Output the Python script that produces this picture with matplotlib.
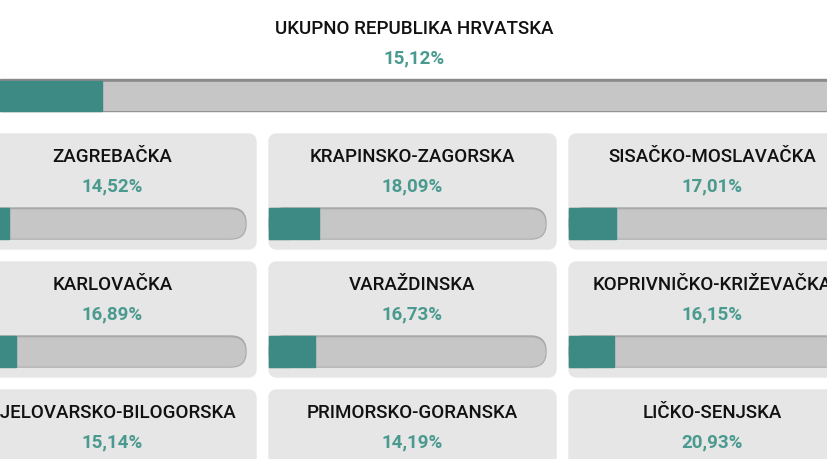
import matplotlib.pyplot as plt
from matplotlib.patches import FancyBboxPatch, Rectangle

plt.rcParams['font.family'] = 'Roboto'

total_name = 'UKUPNO REPUBLIKA HRVATSKA'
total_value = 15.12

names = [
    'ZAGREBAČKA', 'KRAPINSKO-ZAGORSKA', 'SISAČKO-MOSLAVAČKA',
    'KARLOVAČKA', 'VARAŽDINSKA', 'KOPRIVNIČKO-KRIŽEVAČKA',
    'BJELOVARSKO-BILOGORSKA', 'PRIMORSKO-GORANSKA', 'LIČKO-SENJSKA',
]
values = [14.52, 18.09, 17.01, 16.89, 16.73, 16.15, 15.14, 14.19, 20.93]

TEAL = '#3d8a84'
TEXT_TEAL = '#4a9a90'
CARD = '#e6e6e6'
TRACK = '#c6c6c6'

fig = plt.figure(figsize=(8.28, 4.6), dpi=100)
ax = fig.add_axes([0, 0, 1, 1])
ax.set_xlim(0, 828)
ax.set_ylim(460, 0)
ax.axis('off')


def pct(v):
    return f'{v:.2f}%'.replace('.', ',')


# top summary bar
ax.text(414, 29, total_name, ha='center', va='center', fontsize=13.5, fontweight='medium', color='#111111')
ax.text(414, 58, pct(total_value), ha='center', va='center', fontsize=13.5, fontweight='bold', color=TEXT_TEAL)
ax.add_patch(Rectangle((0, 80), 828, 32, color='#8a8a8a', zorder=1))
ax.add_patch(Rectangle((0, 83), 828, 28, color=TRACK, zorder=2))
ax.add_patch(Rectangle((0, 82), total_value / 100 * 675, 30, color=TEAL, zorder=3))

# cards
card_w, card_h = 287, 115
bar_w, bar_h = 277, 31
for i, (name, v) in enumerate(zip(names, values)):
    col, row = i % 3, i // 3
    x0 = -31 + col * 300
    y0 = 135 + row * 128
    ax.add_patch(FancyBboxPatch((x0 + 8, y0 + 8), card_w - 16, card_h - 16,
                                boxstyle='round,pad=8', color=CARD, zorder=1))
    cx = x0 + card_w / 2
    ax.text(cx, y0 + 22, name, ha='center', va='center', fontsize=13.5, fontweight='medium', color='#111111', zorder=4)
    ax.text(cx, y0 + 51, pct(v), ha='center', va='center', fontsize=13.5, fontweight='bold', color=TEXT_TEAL, zorder=4)
    by = y0 + 74
    ax.add_patch(FancyBboxPatch((x0, by), bar_w, bar_h,
                                boxstyle='round,pad=0,rounding_size=15', color='#a8a8a8', zorder=2))
    ax.add_patch(Rectangle((x0, by), 20, bar_h, color='#a8a8a8', zorder=2))
    ax.add_patch(FancyBboxPatch((x0, by + 2), bar_w - 1, bar_h - 3,
                                boxstyle='round,pad=0,rounding_size=14', color=TRACK, zorder=2))
    ax.add_patch(Rectangle((x0, by + 2), 20, bar_h - 3, color=TRACK, zorder=2))
    ax.add_patch(Rectangle((x0, by), v / 100 * bar_w, bar_h, color=TEAL, zorder=3))

fig.savefig('out.png', dpi=100)
